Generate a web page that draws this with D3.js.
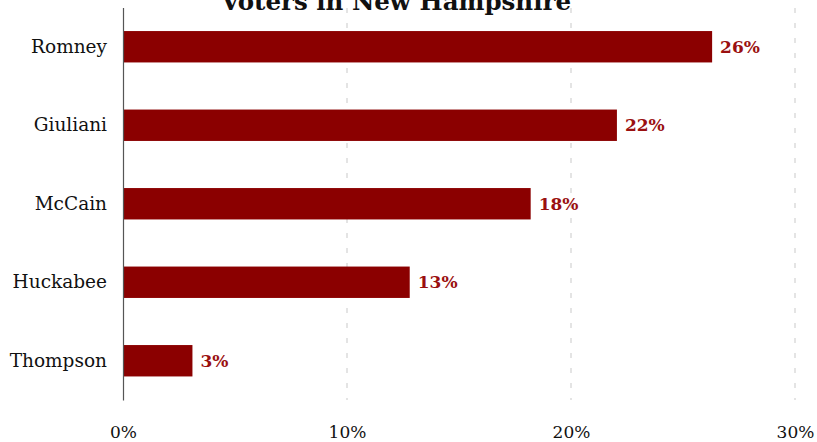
<!DOCTYPE html>
<html>
<head>
<meta charset="utf-8">
<script src="https://cdn.jsdelivr.net/npm/d3@7"></script>
<style>
  html, body { margin: 0; padding: 0; background: #fff; }
  svg { display: block; }
  text { font-family: "DejaVu Serif", serif; }
</style>
</head>
<body>
<div id="chart"></div>
<script>
// Republican primary support, New Hampshire
const candidates = ["Romney", "Giuliani", "McCain", "Huckabee", "Thompson"];
const support = [26.3, 22.05, 18.2, 12.8, 3.1];
const tickValues = [0, 10, 20, 30];
const titleLines = ["Republican Primary Support Among Likely", "Voters in New Hampshire"];

const width = 817, height = 442;
const svg = d3.select("#chart").append("svg")
  .attr("width", width).attr("height", height);

const x = d3.scaleLinear().domain([0, 30]).range([123, 795]);
const y = d3.scaleBand().domain(candidates).range([7.5, 400])
  .paddingInner(0.6).paddingOuter(0.3);

// dashed vertical gridlines
svg.append("g").selectAll("line")
  .data(tickValues.filter(d => d > 0))
  .join("line")
  .attr("x1", d => x(d)).attr("x2", d => x(d))
  .attr("y1", 0).attr("y2", 400)
  .attr("stroke", "#dcdcdc").attr("stroke-width", 1.5)
  .attr("stroke-dasharray", "5,10")
  .attr("stroke-dashoffset", -8);

// title (first line sits above the visible area)
svg.append("g").selectAll("text")
  .data(titleLines)
  .join("text")
  .attr("x", 396).attr("y", (d, i) => 10 - (titleLines.length - 1 - i) * 30)
  .attr("text-anchor", "middle")
  .style("font-family", "'DejaVu Serif', serif")
  .style("font-weight", "bold")
  .style("font-size", "24.5px")
  .attr("fill", "#111")
  .text(d => d);

// bars
svg.append("g").selectAll("rect")
  .data(candidates)
  .join("rect")
  .attr("x", x(0))
  .attr("y", d => y(d))
  .attr("width", (d, i) => x(support[i]) - x(0))
  .attr("height", y.bandwidth())
  .attr("fill", "#8b0000");

// value labels
svg.append("g").selectAll("text")
  .data(candidates)
  .join("text")
  .attr("x", (d, i) => x(support[i]) + 8)
  .attr("y", d => y(d) + y.bandwidth() / 2)
  .attr("dy", "0.35em")
  .style("font-weight", "bold")
  .style("font-size", "17px")
  .attr("fill", "#9a1010")
  .text((d, i) => d3.format(".0f")(support[i]) + "%");

// category axis
const yAxis = svg.append("g")
  .attr("transform", `translate(${x(0)},0)`)
  .call(d3.axisLeft(y).tickSize(0).tickPadding(16));
yAxis.select(".domain").attr("stroke", "#555").attr("stroke-width", 1.2);
yAxis.selectAll("text")
  .style("font-family", "'DejaVu Serif', serif")
  .style("font-size", "18.5px")
  .attr("fill", "#111");

// value axis labels
const xAxis = svg.append("g")
  .attr("transform", "translate(0,400)")
  .call(d3.axisBottom(x).tickValues(tickValues).tickSize(0).tickPadding(26)
    .tickFormat(d => d + "%"));
xAxis.select(".domain").remove();
xAxis.selectAll("text")
  .style("font-family", "'DejaVu Serif', serif")
  .style("font-size", "17px")
  .attr("fill", "#111");
</script>
</body>
</html>
